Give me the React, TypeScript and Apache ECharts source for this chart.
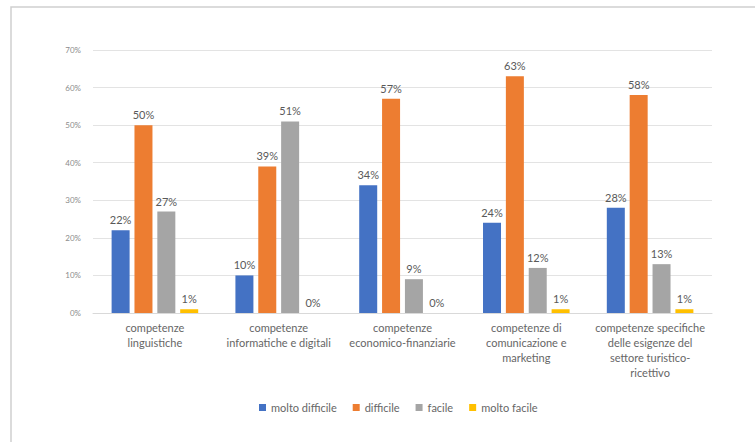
import React, { useEffect, useRef } from "react";
import * as echarts from "echarts";

const categories = [
  "competenze\nlinguistiche",
  "competenze\ninformatiche e digitali",
  "competenze\neconomico-finanziarie",
  "competenze di\ncomunicazione e\nmarketing",
  "competenze specifiche\ndelle esigenze del\nsettore turistico-\nricettivo",
];
const seriesNames = ["molto difficile", "difficile", "facile", "molto facile"];
const moltoDifficile = [22, 10, 34, 24, 28];
const difficile = [50, 39, 57, 63, 58];
const facile = [27, 51, 9, 12, 13];
const moltoFacile = [1, 0, 0, 1, 1];
const colors = ["#4472C4", "#ED7D31", "#A5A5A5", "#FFC000"];

export default function App() {
  const ref = useRef<HTMLDivElement>(null);
  useEffect(() => {
    if (!ref.current) return;
    const chart = echarts.init(ref.current, null, { renderer: "svg" });
    const font = "Lato, 'Open Sans', sans-serif";
    const values = [moltoDifficile, difficile, facile, moltoFacile];
    chart.setOption({
      animation: false,
      backgroundColor: "#ffffff",
      textStyle: { fontFamily: font },
      graphic: [
        {
          type: "rect",
          shape: { x: 11, y: 7, width: 800, height: 500 },
          style: { fill: "none", stroke: "#cfcfcf", lineWidth: 1.5 },
          silent: true,
        },
      ],
      grid: { left: 93, right: 43, top: 50, bottom: 129 },
      legend: {
        bottom: 24,
        left: 254,
        itemWidth: 7,
        itemHeight: 7,
        itemGap: 16,
        icon: "rect",
        textStyle: { color: "#666666", fontSize: 11, fontFamily: font },
        data: seriesNames,
      },
      xAxis: {
        type: "category",
        data: categories,
        axisLine: { lineStyle: { color: "#d9d9d9" } },
        axisTick: { show: false },
        axisLabel: {
          color: "#666666",
          fontSize: 11,
          lineHeight: 15,
          margin: 7,
          interval: 0,
          fontFamily: font,
        },
      },
      yAxis: {
        type: "value",
        min: 0,
        max: 70,
        interval: 10,
        axisLine: { show: false },
        axisTick: { show: false },
        axisLabel: {
          formatter: "{value}%",
          color: "#8c8c8c",
          fontSize: 8,
          margin: 12,
          fontFamily: font,
        },
        splitLine: { lineStyle: { color: "#e3e3e3" } },
      },
      series: seriesNames.map((name, i) => ({
        name,
        type: "bar",
        data: values[i],
        barWidth: 18,
        barGap: "27%",
        itemStyle: { color: colors[i] },
        label: {
          show: true,
          position: "top",
          distance: 5,
          formatter: "{c}%",
          color: "#595959",
          fontSize: 11,
          fontFamily: font,
        },
      })),
    });
    return () => chart.dispose();
  }, []);
  return (
    <div
      ref={ref}
      style={{ position: "fixed", left: 0, top: 0, width: 755, height: 442 }}
    />
  );
}
